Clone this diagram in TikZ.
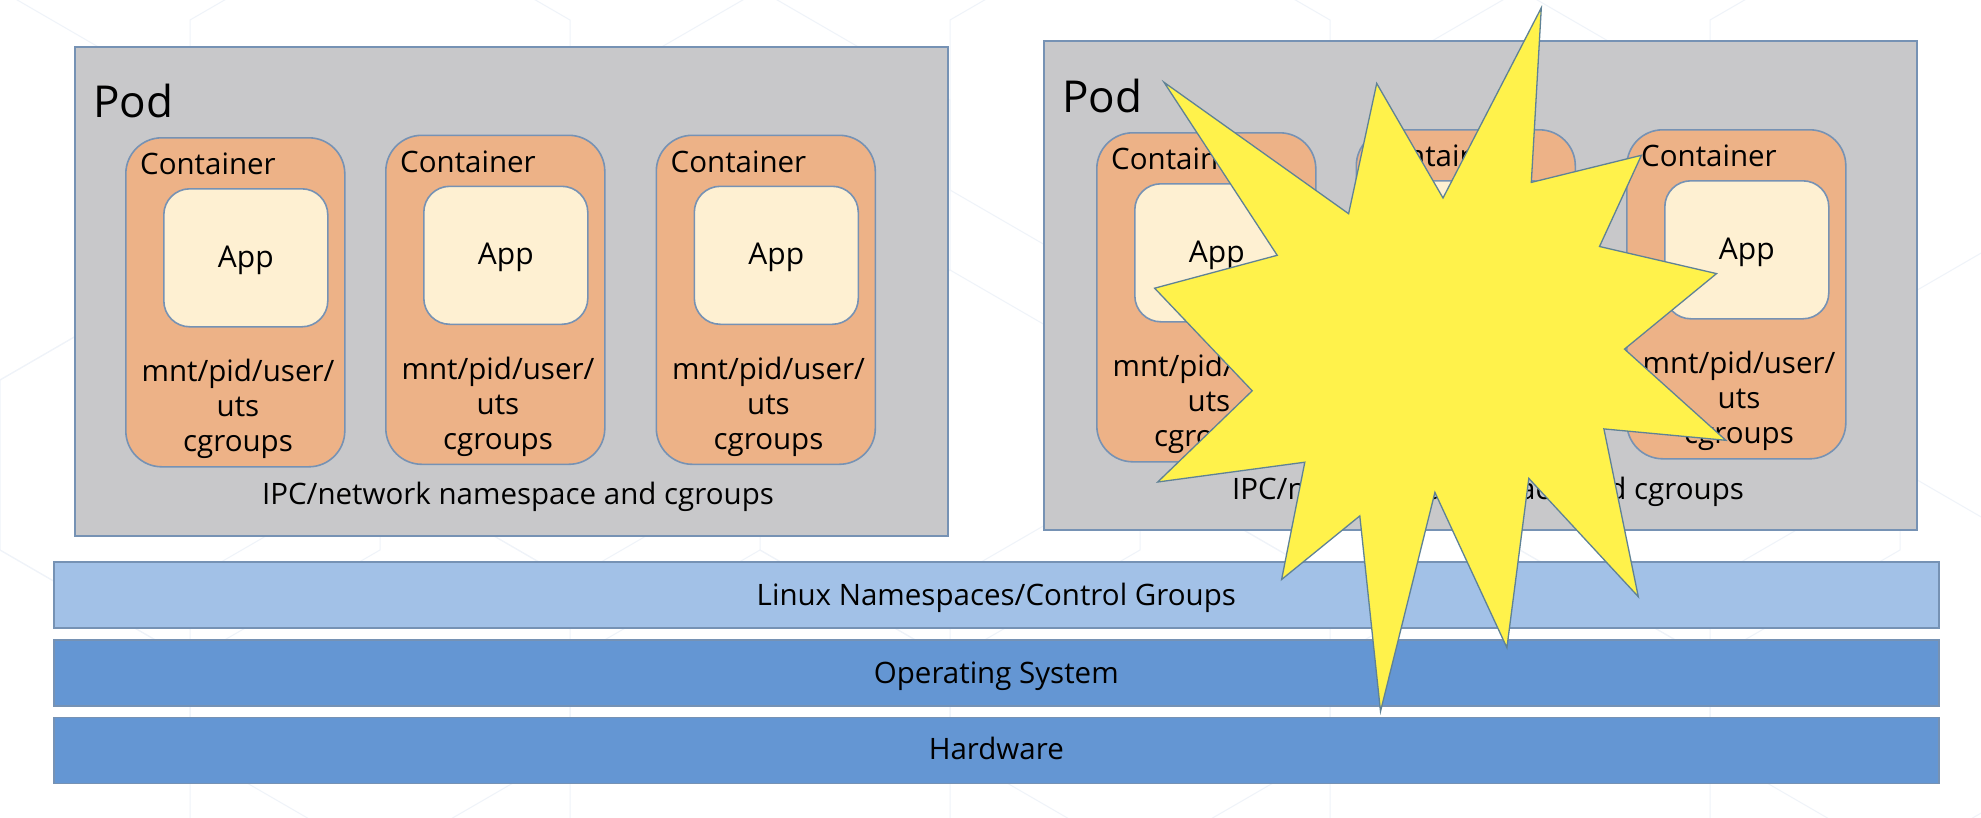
\documentclass[tikz,border=0pt]{standalone}
\usepackage{fontspec}
\setmainfont{Open Sans}
\definecolor{podfill}{HTML}{C8C8CA}
\definecolor{edgeblue}{HTML}{7692B4}
\definecolor{contfill}{HTML}{EDB287}
\definecolor{appfill}{HTML}{FEF0D2}
\definecolor{barlight}{HTML}{A2C1E7}
\definecolor{bardark}{HTML}{6496D3}
\definecolor{starfill}{HTML}{FFF24B}
\definecolor{starline}{HTML}{5F8296}
\definecolor{hexline}{HTML}{EFF3F9}
\tikzset{
 pod/.style={draw=edgeblue,line width=2pt,fill=podfill,inner sep=0pt},
 cont/.style={draw=edgeblue,line width=1.6pt,fill=contfill,rounded corners=36pt,inner sep=0pt},
 appbox/.style={draw=edgeblue,line width=1.6pt,fill=appfill,rounded corners=26pt,inner sep=0pt,text height=24pt,text depth=4.8pt,font=\fontsize{30}{36}\selectfont},
 bar/.style={draw=edgeblue,line width=1.6pt,inner sep=0pt,minimum width=1885pt,minimum height=66pt,text height=24pt,font=\fontsize{29.5}{34}\selectfont,text=black},
 lab/.style={inner sep=0pt,font=\fontsize{29.5}{35}\selectfont,text=black},
 bigl/.style={inner sep=0pt,font=\fontsize{44}{50}\selectfont,text=black},
 hexl/.style={draw=hexline,line width=1pt},
}
\newcommand{\contunit}[3]{%
 \node[cont,anchor=north west,minimum width=219pt,minimum height=329pt] (c#1) at (#2,#3) {};
 \node[appbox,anchor=north west,minimum width=164pt,minimum height=138pt] (a#1) at (#2+38,#3+51) {App};
 \node[lab,anchor=west] (ct#1) at (#2+15,#3+27) {Container};
 \node[lab,align=center,anchor=north] (ns#1) at (#2+113,#3+222) {mnt/pid/user/\\uts\\cgroups};
}
\begin{document}
\begin{tikzpicture}[x=1pt,y=-1pt]
\useasboundingbox (0,0) rectangle (1981,817);
\fill[white] (0,0) rectangle (1981,817);
\foreach \cx/\cy in {0/100,380/20,760/100,1140/20,1520/100,1900/20,190/380,570/300,950/380,1330/300,1710/380,0/660,380/580,760/660,1140/580,1520/660,1900/580}{
 \draw[hexl] (\cx-190,\cy) -- (\cx,\cy-110) -- (\cx+190,\cy) -- (\cx+190,\cy+170) -- (\cx,\cy+280) -- (\cx-190,\cy+170) -- cycle;
}
\node[pod,anchor=north west,minimum width=873pt,minimum height=489pt] (podL) at (74,46) {};
\node[pod,anchor=north west,minimum width=873pt,minimum height=489pt] (podR) at (1043,40) {};
\node[bigl,anchor=west] (pL) at (93,101) {Pod};
\node[bigl,anchor=west] (pR) at (1062,96) {Pod};
\contunit{1}{125}{137}
\contunit{2}{385}{134.5}
\contunit{3}{655.5}{134.5}
\contunit{4}{1096}{132}
\contunit{5}{1355.5}{129}
\contunit{6}{1626}{129}
\node[lab] (ipcL) at (518,497) {IPC/network namespace and cgroups};
\node[lab] (ipcR) at (1488,492) {IPC/network namespace and cgroups};
\node[bar,fill=barlight,text depth=3.6pt,anchor=north west] (b1) at (53,561) {Linux Namespaces/Control Groups};
\node[bar,fill=bardark,text depth=3.6pt,anchor=north west] (b2) at (53,639) {Operating System};
\node[bar,fill=bardark,text depth=5.6pt,anchor=north west] (b3) at (53,716.5) {Hardware};
\draw[starline,line width=1.3pt,fill=starfill,line join=miter] (1541.3,7.8) -- (1531.3,182.4) -- (1641.4,155.3) -- (1599.5,246.5) -- (1716.5,273.6) -- (1624.5,349.1) -- (1725.9,440.3) -- (1603.9,428.9) -- (1638.3,596.7) -- (1528.8,478.4) -- (1506.9,647.7) -- (1434.9,492.4) -- (1380.5,711.3) -- (1359.8,515.9) -- (1281.6,579.5) -- (1304.8,462.2) -- (1157.7,482) -- (1252.2,390.8) -- (1154.6,288.2) -- (1277.2,255.3) -- (1164,82.3) -- (1348.6,213.7) -- (1376.7,83.4) -- (1443,198) -- cycle;
\end{tikzpicture}
\end{document}
